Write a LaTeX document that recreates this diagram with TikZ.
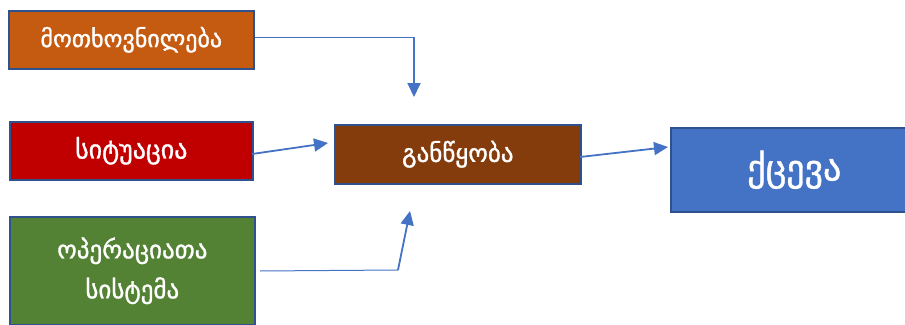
\documentclass[tikz,border=0pt]{standalone}
\usepackage{fontspec}
\setmainfont{DejaVu Sans}[BoldFont={DejaVu Sans}, BoldFeatures={FakeBold=1.2}]
\usetikzlibrary{arrows.meta}
\definecolor{borderc}{HTML}{2F528F}
\definecolor{arrowc}{HTML}{4472C4}
\definecolor{c1}{HTML}{C55A11}
\definecolor{c2}{HTML}{C00000}
\definecolor{c3}{HTML}{548235}
\definecolor{c4}{HTML}{843C0C}
\definecolor{c5}{HTML}{4472C4}
\tikzset{
  box/.style={draw=borderc, line width=1.6pt, text=white, inner sep=0pt, align=center, anchor=north west},
  conn/.style={draw=arrowc, line width=1.8pt, -{Triangle[length=14pt,width=13pt]}},
  thin/.style={draw=arrowc, line width=1pt},
}
\begin{document}
\begin{tikzpicture}[x=1pt,y=-1pt]
\useasboundingbox (0,0) rectangle (905,324);
\node[box, fill=c1, minimum width=245pt, minimum height=58pt, font=\fontsize{24}{28}\selectfont\bfseries] (b1) at (8,10) {მოთხოვნილება};
\node[box, fill=c2, minimum width=243pt, minimum height=58pt, font=\fontsize{26}{30}\selectfont\bfseries] (b2) at (9,121) {სიტუაცია};
\node[box, fill=c3, minimum width=245pt, minimum height=108pt, font=\fontsize{25}{40}\selectfont\bfseries] (b3) at (9,216) {ოპერაციათა\\სისტემა};
\node[box, fill=c4, minimum width=246pt, minimum height=59pt, font=\fontsize{25}{28}\selectfont\bfseries] (b4) at (334,124) {განწყობა};
\node[box, fill=c5, minimum width=247pt, minimum height=84pt, font=\fontsize{36}{40}\selectfont\bfseries] (b5) at (670,127) {ქცევა};
% connectors
\coordinate (k1) at (414,37);
\coordinate (t1) at (414,97);
\draw[thin] (b1.east |- k1) -- (k1);
\draw[conn] (k1) -- (t1);
\coordinate (s2) at (252,154);
\coordinate (t2) at (328,143);
\draw[conn] (s2) -- (t2);
\coordinate (s3) at (260,271);
\coordinate (k3) at (398,270);
\coordinate (t3) at (410,211);
\draw[thin] (s3) -- (k3);
\draw[conn] (k3) -- (t3);
\coordinate (s4) at (580,157);
\coordinate (t4) at (668,147);
\draw[conn] (s4) -- (t4);
\end{tikzpicture}
\end{document}
